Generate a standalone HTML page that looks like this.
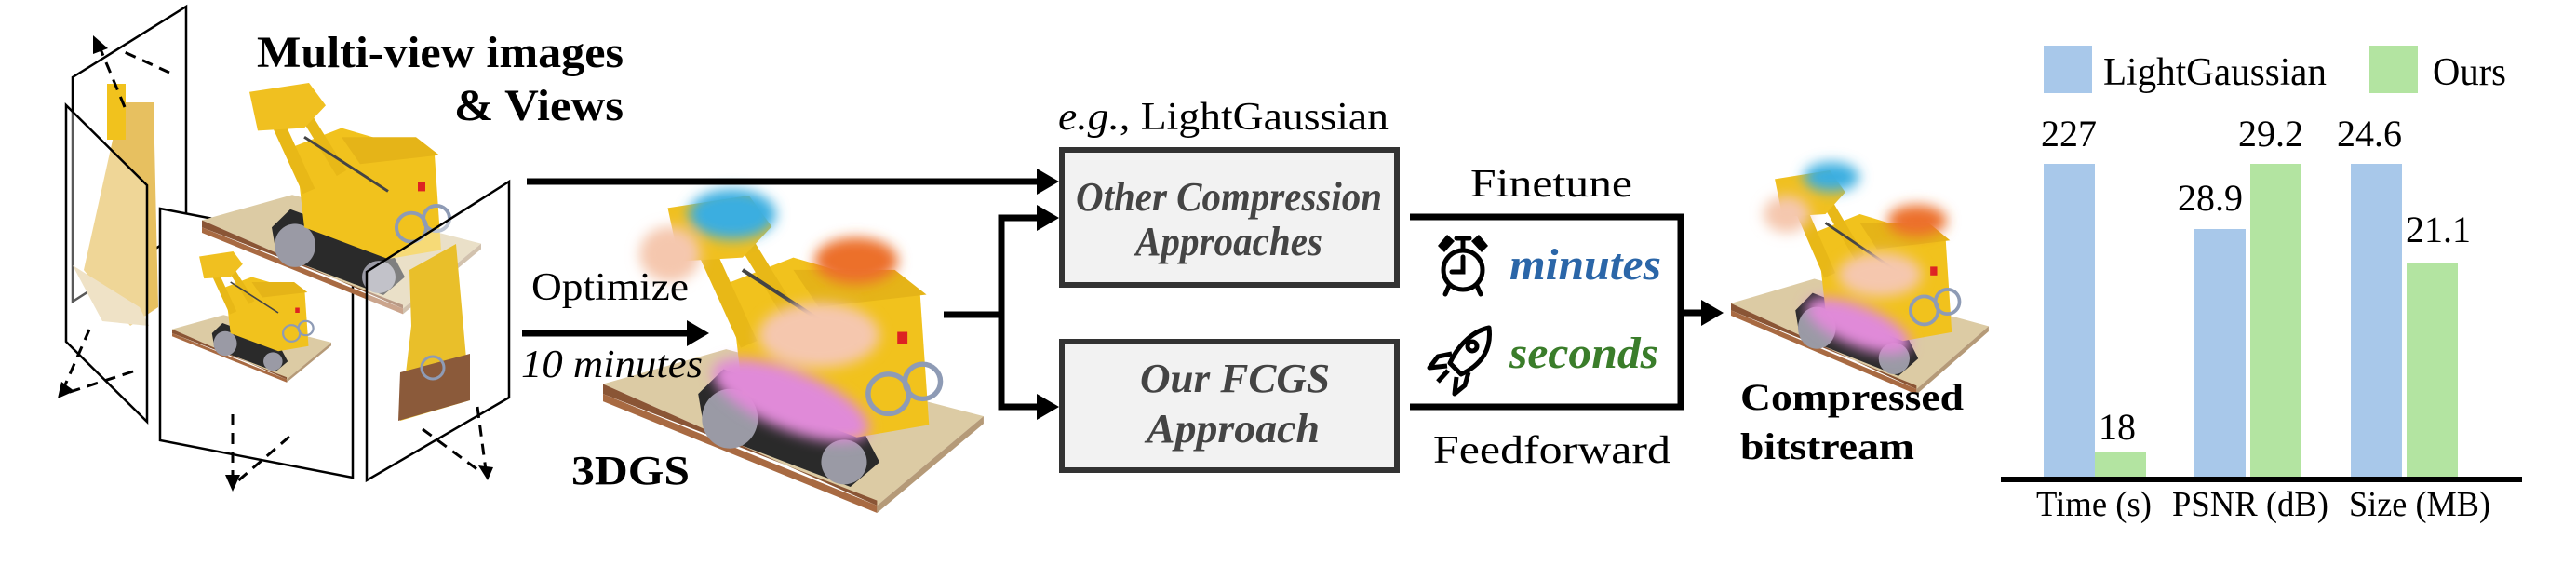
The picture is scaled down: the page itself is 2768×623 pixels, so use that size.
<!DOCTYPE html>
<html><head><meta charset="utf-8"><style>
html,body{margin:0;padding:0;background:#fff;}
svg{display:block;font-family:"Liberation Serif","Times New Roman",serif;}
svg text{font-family:"Liberation Serif","Times New Roman",serif;}
</style></head><body>
<svg width="2768" height="623" viewBox="0 0 2768 623" xmlns="http://www.w3.org/2000/svg" font-family="Liberation Serif, Times New Roman, serif">
<defs>
<filter id="bl" x="-50%" y="-50%" width="200%" height="200%"><feGaussianBlur stdDeviation="7"/></filter>
<g id="dozer">
  <polygon points="0,152 97,124 300,178 216,250" fill="#dccba4"/>
  <polygon points="0,152 216,250 216,246 0,160" fill="#8a5535"/>
  <polygon points="0,160 216,250 216,256 0,166" fill="#a86a42"/>
  <polygon points="216,250 300,178 300,184 216,256" fill="#b59a78"/>
  <polygon points="95,140 200,180 218,215 195,235 80,190 75,160" fill="#2a2a2a"/>
  <ellipse cx="100" cy="180" rx="22" ry="24" fill="#9a9aa5"/>
  <ellipse cx="190" cy="215" rx="18" ry="18" fill="#9a9aa5"/>
  <polygon points="100,70 150,50 250,80 257,185 200,195 110,160" fill="#f1c21d"/>
  <polygon points="150,60 230,60 255,80 170,90" fill="#e5b418"/>
  <line x1="115" y1="120" x2="75" y2="30" stroke="#e8b817" stroke-width="14"/>
  <line x1="150" y1="100" x2="105" y2="25" stroke="#e8b817" stroke-width="12"/>
  <line x1="110" y1="60" x2="200" y2="120" stroke="#444" stroke-width="3"/>
  <polygon points="51,10 115,0 133,25 110,50 60,53" fill="#f0c020"/>
  <circle cx="225" cy="160" r="16" fill="none" stroke="#8e9bb5" stroke-width="4"/>
  <circle cx="252" cy="150" r="14" fill="none" stroke="#8e9bb5" stroke-width="4"/>
  <rect x="232" y="110" width="8" height="10" fill="#d22"/>
</g>
</defs>

<!-- Left planes -->
<polygon points="78,83 200,7 200,246 78,324" fill="#fff" stroke="#000" stroke-width="2.5"/>
<polygon points="90,290 130,110 165,110 170,330 140,350" fill="#e7c060"/>
<polygon points="78,285 150,330 160,350 110,345" fill="#e6d3a8"/>
<rect x="115" y="90" width="20" height="60" fill="#f1c21d"/>
<polygon points="71,113 158,199 158,453 71,367" fill="#fff" fill-opacity="0.35" stroke="#000" stroke-width="2.5"/>
<polygon points="172,224 379,264 379,513 172,473" fill="#fff" stroke="#000" stroke-width="2.5"/>
<use href="#dozer" transform="translate(185,270) scale(0.57,0.55)"/>
<use href="#dozer" transform="translate(217,89) scale(1,0.97)"/>
<polygon points="394,292 547,195 547,427 394,516" fill="#fff" fill-opacity="0.4" stroke="#000" stroke-width="2.5"/>
<polygon points="440,290 490,262 505,430 430,452 442,350" fill="#e9bf2a"/>
<polygon points="430,400 505,380 505,430 428,452" fill="#8b5a3a"/>
<circle cx="465" cy="395" r="12" fill="none" stroke="#8e9bb5" stroke-width="3"/>

<g stroke="#000" stroke-width="3" stroke-dasharray="12,8" fill="none">
  <line x1="134" y1="115" x2="106" y2="48"/>
  <line x1="182" y1="78" x2="134" y2="56"/>
  <line x1="96" y1="354" x2="68" y2="418"/>
  <line x1="143" y1="399" x2="72" y2="422"/>
  <line x1="250" y1="445" x2="250" y2="515"/>
  <line x1="311" y1="469" x2="254" y2="518"/>
  <line x1="513" y1="437" x2="522" y2="505"/>
  <line x1="454" y1="461" x2="518" y2="508"/>
</g>
<g fill="#000">
  <polygon points="100,38 116,52 100,58"/>
  <polygon points="62,428 66,410 80,420"/>
  <polygon points="250,528 242,510 258,510"/>
  <polygon points="524,516 514,500 530,502"/>
</g>

<!-- 3DGS image -->
<use href="#dozer" transform="translate(648,210) scale(1.363,1.332)"/>
<g filter="url(#bl)">
  <ellipse cx="787" cy="230" rx="47" ry="27" fill="#3aaee0"/>
  <ellipse cx="720" cy="273" rx="33" ry="30" fill="#f5c7ae"/>
  <ellipse cx="920" cy="280" rx="45" ry="25" fill="#ec6f2c"/>
  <ellipse cx="880" cy="360" rx="65" ry="35" fill="#f5c7ae"/>
  <ellipse cx="850" cy="430" rx="90" ry="32" fill="#e08ad8" transform="rotate(22 850 430)"/>
</g>

<text x="276" y="72" font-size="48" font-weight="bold" textLength="394" lengthAdjust="spacingAndGlyphs">Multi-view images</text>
<text x="488" y="129" font-size="48" font-weight="bold" textLength="182" lengthAdjust="spacingAndGlyphs">&amp; Views</text>

<line x1="566" y1="195" x2="1122" y2="195" stroke="#000" stroke-width="7"/>
<polygon points="1138,195 1114,181 1114,209" fill="#000"/>

<text x="571" y="322" font-size="42" textLength="169" lengthAdjust="spacingAndGlyphs">Optimize</text>
<line x1="561" y1="358" x2="745" y2="358" stroke="#000" stroke-width="7"/>
<polygon points="762,358 738,344 738,372" fill="#000"/>
<text x="560" y="405" font-size="42" font-style="italic" textLength="195" lengthAdjust="spacingAndGlyphs">10 minutes</text>
<text x="614" y="520" font-size="44" font-weight="bold" textLength="127" lengthAdjust="spacingAndGlyphs">3DGS</text>

<g stroke="#000" stroke-width="7" fill="none">
  <line x1="1014" y1="338" x2="1079" y2="338"/>
  <polyline points="1122,234 1076,234 1076,437 1122,437"/>
</g>
<polygon points="1138,234 1114,220 1114,248" fill="#000"/>
<polygon points="1138,437 1114,423 1114,451" fill="#000"/>

<text x="1137" y="139" font-size="42" textLength="355" lengthAdjust="spacingAndGlyphs"><tspan font-style="italic">e.g.</tspan>, LightGaussian</text>

<rect x="1141" y="161" width="360" height="145" fill="#f2f2f2" stroke="#333" stroke-width="6"/>
<rect x="1141" y="367" width="360" height="138" fill="#f2f2f2" stroke="#333" stroke-width="6"/>
<g font-weight="bold" font-style="italic" fill="#444" font-size="44">
<text x="1156" y="226" textLength="329" lengthAdjust="spacingAndGlyphs">Other Compression</text>
<text x="1220" y="274" textLength="201" lengthAdjust="spacingAndGlyphs">Approaches</text>
<text x="1225" y="421" textLength="204" lengthAdjust="spacingAndGlyphs">Our FCGS</text>
<text x="1232" y="475" textLength="186" lengthAdjust="spacingAndGlyphs">Approach</text>
</g>

<polyline points="1515,233 1806,233 1806,437 1515,437" stroke="#000" stroke-width="7" fill="none"/>
<line x1="1806" y1="336" x2="1836" y2="336" stroke="#000" stroke-width="7"/>
<polygon points="1852,336 1828,322 1828,350" fill="#000"/>
<text x="1580" y="211" font-size="42" textLength="174" lengthAdjust="spacingAndGlyphs">Finetune</text>
<text x="1540" y="497" font-size="42" textLength="255" lengthAdjust="spacingAndGlyphs">Feedforward</text>

<g stroke="#000" stroke-width="5" fill="none" stroke-linecap="round">
  <circle cx="1572" cy="290" r="21"/>
  <polyline points="1572,276 1572,292 1560,292"/>
  <line x1="1572" y1="269" x2="1572" y2="257"/>
  <line x1="1565" y1="256" x2="1579" y2="256"/>
  <line x1="1557" y1="307" x2="1553" y2="316"/>
  <line x1="1587" y1="307" x2="1591" y2="316"/>
</g>
<polygon points="1545,264 1555,252 1563,259 1552,271" fill="#000"/>
<polygon points="1599,264 1589,252 1581,259 1592,271" fill="#000"/>
<text x="1622" y="300" font-size="48" font-weight="bold" font-style="italic" fill="#2b66a8" textLength="163" lengthAdjust="spacingAndGlyphs">minutes</text>

<g stroke="#000" stroke-width="5" fill="none" stroke-linejoin="round">
  <path d="M1600,352 C1585,355 1568,368 1558,390 L1570,402 C1592,392 1603,375 1600,352 Z"/>
  <circle cx="1582" cy="372" r="5"/>
  <path d="M1560,380 L1545,383 L1536,395 L1555,393"/>
  <path d="M1578,400 L1574,414 L1563,423 L1565,405"/>
  <path d="M1556,398 L1545,410"/>
</g>
<text x="1622" y="395" font-size="48" font-weight="bold" font-style="italic" fill="#3a7d2a" textLength="160" lengthAdjust="spacingAndGlyphs">seconds</text>

<use href="#dozer" transform="translate(1860,183) scale(0.923,0.94)"/>
<g filter="url(#bl)">
  <ellipse cx="1968" cy="190" rx="30" ry="16" fill="#3aaee0"/>
  <ellipse cx="1920" cy="230" rx="25" ry="20" fill="#f5c7ae"/>
  <ellipse cx="2060" cy="237" rx="32" ry="17" fill="#ec6f2c"/>
  <ellipse cx="2020" cy="295" rx="45" ry="24" fill="#f5c7ae"/>
  <ellipse cx="1997" cy="350" rx="60" ry="22" fill="#e08ad8" transform="rotate(22 1997 350)"/>
</g>
<text x="1870" y="440" font-size="40" font-weight="bold" textLength="240" lengthAdjust="spacingAndGlyphs">Compressed</text>
<text x="1870" y="493" font-size="40" font-weight="bold" textLength="187" lengthAdjust="spacingAndGlyphs">bitstream</text>

<rect x="2196" y="49" width="52" height="51" fill="#a8c8ea"/>
<text x="2260" y="91" font-size="42" textLength="240" lengthAdjust="spacingAndGlyphs">LightGaussian</text>
<rect x="2546" y="49" width="52" height="51" fill="#b3e4a1"/>
<text x="2614" y="91" font-size="42" textLength="79" lengthAdjust="spacingAndGlyphs">Ours</text>

<rect x="2196" y="176" width="55" height="339" fill="#a8c8ea"/>
<rect x="2251" y="485" width="55" height="30" fill="#b3e4a1"/>
<rect x="2358" y="246" width="55" height="269" fill="#a8c8ea"/>
<rect x="2418" y="176" width="55" height="339" fill="#b3e4a1"/>
<rect x="2526" y="176" width="55" height="339" fill="#a8c8ea"/>
<rect x="2586" y="283" width="55" height="232" fill="#b3e4a1"/>
<line x1="2150" y1="515" x2="2710" y2="515" stroke="#000" stroke-width="6"/>

<g font-size="40" text-anchor="middle">
<text x="2223" y="157">227</text>
<text x="2275" y="472">18</text>
<text x="2375" y="226">28.9</text>
<text x="2440" y="157">29.2</text>
<text x="2546" y="157">24.6</text>
<text x="2620" y="260">21.1</text>
</g>
<text x="2188" y="554" font-size="38" textLength="124" lengthAdjust="spacingAndGlyphs">Time (s)</text>
<text x="2334" y="554" font-size="38" textLength="168" lengthAdjust="spacingAndGlyphs">PSNR (dB)</text>
<text x="2524" y="554" font-size="38" textLength="152" lengthAdjust="spacingAndGlyphs">Size (MB)</text>
</svg>
</body></html>
